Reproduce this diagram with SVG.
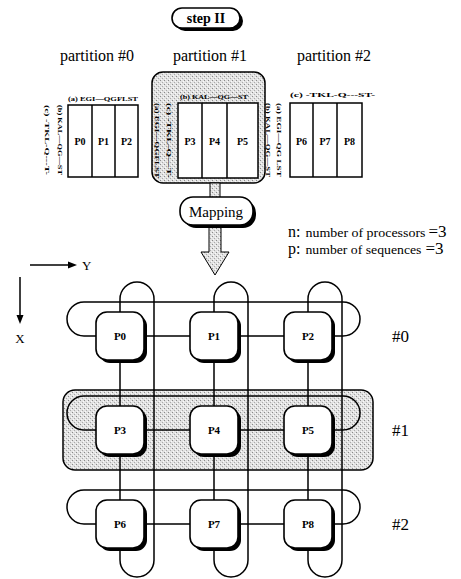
<svg xmlns="http://www.w3.org/2000/svg" width="461" height="579" viewBox="0 0 461 579">
<defs>
<pattern id="stip" width="4" height="4" patternUnits="userSpaceOnUse">
<rect width="4" height="4" fill="#e2e2e2"/>
<rect x="0" y="0" width="1" height="1" fill="#8a8a8a"/>
<rect x="2" y="2" width="1" height="1" fill="#aaa"/>
<rect x="3" y="1" width="1" height="1" fill="#fafafa"/>
<rect x="1" y="3" width="1" height="1" fill="#fafafa"/>
</pattern>
<style>
.t{font-family:"Liberation Serif","Times New Roman",serif;fill:#000}
.b{font-weight:bold}
.sq{font-family:"Liberation Serif",serif;font-weight:bold;font-size:6.5px}
.ln{fill:none;stroke:#000;stroke-width:1.5}
.box{fill:#fff;stroke:#000;stroke-width:1.6}
.sh{fill:#000}
.cell{fill:#fff;stroke:#000;stroke-width:1.5}
</style>
</defs>
<rect width="461" height="579" fill="#fff"/>

<!-- step II -->
<g id="step2">
<rect class="sh" x="175" y="11" width="68" height="20" rx="10"/>
<rect class="box" x="172" y="8" width="68" height="20" rx="10"/>
<text class="t b" x="206" y="23" font-size="14" text-anchor="middle">step II</text>
</g>

<!-- partition titles -->
<text class="t" x="97" y="61" font-size="16" text-anchor="middle">partition #0</text>
<text class="t" x="210" y="61" font-size="16" text-anchor="middle">partition #1</text>
<text class="t" x="334" y="61" font-size="16" text-anchor="middle">partition #2</text>

<!-- partition 0 -->
<g id="part0">
<rect class="cell" x="68" y="105" width="70" height="72"/>
<line class="ln" x1="92" y1="105" x2="92" y2="177"/>
<line class="ln" x1="115" y1="105" x2="115" y2="177"/>
<text class="sq" x="68" y="101" textLength="70" lengthAdjust="spacingAndGlyphs">(a) EGI—QGFLST</text>
<text class="sq" transform="translate(58,105) rotate(90)" textLength="70" lengthAdjust="spacingAndGlyphs">(b) KAL—QG—ST</text>
<text class="sq" transform="translate(45,105) rotate(90)" textLength="70" lengthAdjust="spacingAndGlyphs">(c) -TKL-Q---T-</text>
<text class="t b" x="80" y="145" font-size="10" text-anchor="middle">P0</text>
<text class="t b" x="103.5" y="145" font-size="10" text-anchor="middle">P1</text>
<text class="t b" x="126.5" y="145" font-size="10" text-anchor="middle">P2</text>
</g>

<!-- partition 1 -->
<g id="part1">
<rect x="152" y="72" width="113" height="111" rx="11" fill="url(#stip)" stroke="#000" stroke-width="1.5"/>
<rect class="cell" x="178" y="103" width="80" height="75"/>
<line class="ln" x1="202" y1="103" x2="202" y2="178"/>
<line class="ln" x1="227" y1="103" x2="227" y2="178"/>
<text class="sq" x="180" y="99" textLength="68" lengthAdjust="spacingAndGlyphs">(b) KAL—QG—ST</text>
<text class="sq" transform="translate(155,103) rotate(90)" textLength="75" lengthAdjust="spacingAndGlyphs">(a) EGI—QGFLST</text>
<text class="sq" transform="translate(167,103) rotate(90)" textLength="75" lengthAdjust="spacingAndGlyphs">(c) -TKL-Q---T-</text>
<text class="t b" x="190" y="145" font-size="10" text-anchor="middle">P3</text>
<text class="t b" x="214.5" y="145" font-size="10" text-anchor="middle">P4</text>
<text class="t b" x="242.5" y="145" font-size="10" text-anchor="middle">P5</text>
</g>

<!-- partition 2 -->
<g id="part2">
<rect class="cell" x="290" y="103" width="72" height="74"/>
<line class="ln" x1="313" y1="103" x2="313" y2="177"/>
<line class="ln" x1="337" y1="103" x2="337" y2="177"/>
<text class="sq" x="290" y="97" textLength="85" lengthAdjust="spacingAndGlyphs">(c) -TKL-Q---ST-</text>
<text class="sq" transform="translate(266,103) rotate(90)" textLength="74" lengthAdjust="spacingAndGlyphs">(b) KAL—QG—ST</text>
<text class="sq" transform="translate(277,103) rotate(90)" textLength="74" lengthAdjust="spacingAndGlyphs">(a) EGI—QG LST</text>
<text class="t b" x="301.5" y="145" font-size="10" text-anchor="middle">P6</text>
<text class="t b" x="325" y="145" font-size="10" text-anchor="middle">P7</text>
<text class="t b" x="349.5" y="145" font-size="10" text-anchor="middle">P8</text>
</g>

<!-- mapping arrows -->
<g id="mapping">
<rect x="210" y="183" width="10" height="15" fill="url(#stip)" stroke="#000" stroke-width="1"/>
<polygon points="209,227 221,227 221,252 229,252 215,275 201,252 209,252" fill="url(#stip)" stroke="#000" stroke-width="1"/>
<rect class="sh" x="183" y="200" width="73" height="28" rx="13"/>
<rect class="box" x="180" y="197" width="73" height="28" rx="13"/>
<text class="t" x="216" y="217" font-size="15" text-anchor="middle">Mapping</text>
</g>

<!-- legend -->
<text class="t" x="288" y="237" font-size="16">n:<tspan font-size="12" dx="5" textLength="120" lengthAdjust="spacingAndGlyphs">number of processors</tspan><tspan font-size="17" dx="3">=3</tspan></text>
<text class="t" x="288" y="254" font-size="16">p:<tspan font-size="12" dx="5" textLength="116" lengthAdjust="spacingAndGlyphs">number of sequences</tspan><tspan font-size="17" dx="4">=3</tspan></text>

<!-- axes -->
<g id="axes">
<line class="ln" x1="30" y1="265" x2="70" y2="265"/>
<polygon points="77,265 68,261.5 68,268.5"/>
<text class="t" x="82" y="270" font-size="13">Y</text>
<line class="ln" x1="20" y1="277" x2="20" y2="317"/>
<polygon points="20,324 16.5,315 23.5,315"/>
<text class="t" x="20" y="343" font-size="13" text-anchor="middle">X</text>
</g>

<!-- partition #1 band -->
<rect id="band1" x="63" y="390" width="310" height="80" rx="12" fill="url(#stip)" stroke="#000" stroke-width="1.5"/>

<!-- connectors -->
<g id="connectors">
<path class="ln" d="M96 336 H84 A17 17 0 0 1 84 302 H343 A17 17 0 0 1 343 336 H332"/>
<path class="ln" d="M96 430 H84 A17 17 0 0 1 84 396 H343 A17 17 0 0 1 343 430 H332"/>
<path class="ln" d="M96 524 H84 A17 17 0 0 1 84 490 H343 A17 17 0 0 1 343 524 H332"/>
<path class="ln" d="M120 312 V299 A17 17 0 0 1 154 299 V560 A17 17 0 0 1 120 560 V548"/>
<path class="ln" d="M214 312 V299 A17 17 0 0 1 248 299 V560 A17 17 0 0 1 214 560 V548"/>
<path class="ln" d="M308 312 V299 A17 17 0 0 1 342 299 V560 A17 17 0 0 1 308 560 V548"/>
<path class="ln" d="M144 336 H190 M238 336 H284 M144 430 H190 M238 430 H284 M144 524 H190 M238 524 H284"/>
<path class="ln" d="M120 360 V406 M120 454 V500 M214 360 V406 M214 454 V500 M308 360 V406 M308 454 V500"/>
</g>

<!-- nodes -->
<g id="P0"><rect class="sh" x="99" y="315" width="48" height="48" rx="11"/><rect class="box" x="96" y="312" width="48" height="48" rx="11"/><text class="t b" x="120" y="340" font-size="11" text-anchor="middle">P0</text></g>
<g id="P1"><rect class="sh" x="193" y="315" width="48" height="48" rx="11"/><rect class="box" x="190" y="312" width="48" height="48" rx="11"/><text class="t b" x="214" y="340" font-size="11" text-anchor="middle">P1</text></g>
<g id="P2"><rect class="sh" x="287" y="315" width="48" height="48" rx="11"/><rect class="box" x="284" y="312" width="48" height="48" rx="11"/><text class="t b" x="308" y="340" font-size="11" text-anchor="middle">P2</text></g>
<g id="P3"><rect class="sh" x="99" y="409" width="48" height="48" rx="11"/><rect class="box" x="96" y="406" width="48" height="48" rx="11"/><text class="t b" x="120" y="434" font-size="11" text-anchor="middle">P3</text></g>
<g id="P4"><rect class="sh" x="193" y="409" width="48" height="48" rx="11"/><rect class="box" x="190" y="406" width="48" height="48" rx="11"/><text class="t b" x="214" y="434" font-size="11" text-anchor="middle">P4</text></g>
<g id="P5"><rect class="sh" x="287" y="409" width="48" height="48" rx="11"/><rect class="box" x="284" y="406" width="48" height="48" rx="11"/><text class="t b" x="308" y="434" font-size="11" text-anchor="middle">P5</text></g>
<g id="P6"><rect class="sh" x="99" y="503" width="48" height="48" rx="11"/><rect class="box" x="96" y="500" width="48" height="48" rx="11"/><text class="t b" x="120" y="528" font-size="11" text-anchor="middle">P6</text></g>
<g id="P7"><rect class="sh" x="193" y="503" width="48" height="48" rx="11"/><rect class="box" x="190" y="500" width="48" height="48" rx="11"/><text class="t b" x="214" y="528" font-size="11" text-anchor="middle">P7</text></g>
<g id="P8"><rect class="sh" x="287" y="503" width="48" height="48" rx="11"/><rect class="box" x="284" y="500" width="48" height="48" rx="11"/><text class="t b" x="308" y="528" font-size="11" text-anchor="middle">P8</text></g>

<!-- row labels -->
<text class="t" x="392" y="342" font-size="17">#0</text>
<text class="t" x="392" y="436" font-size="17">#1</text>
<text class="t" x="392" y="530" font-size="17">#2</text>
</svg>
